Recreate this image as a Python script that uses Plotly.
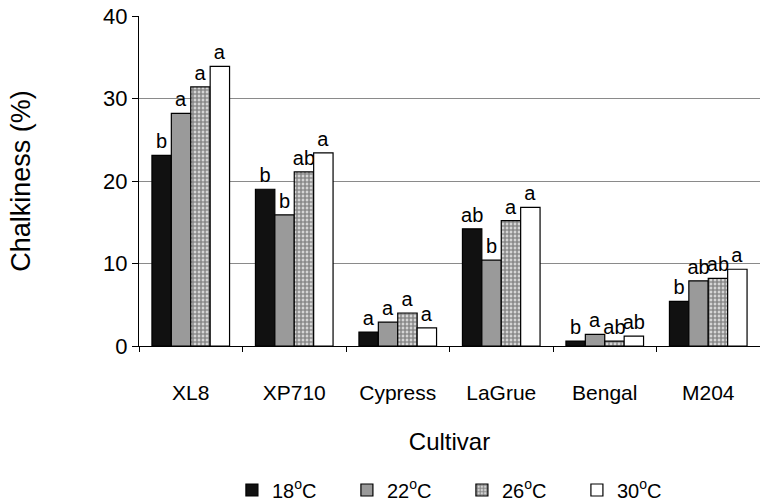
import plotly.graph_objects as go

cultivars = ["XL8", "XP710", "Cypress", "LaGrue", "Bengal", "M204"]
series_names = ["18<sup>o</sup>C", "22<sup>o</sup>C", "26<sup>o</sup>C", "30<sup>o</sup>C"]
v18 = [23.1, 19.0, 1.7, 14.2, 0.6, 5.4]
v22 = [28.2, 15.9, 2.9, 10.4, 1.4, 7.9]
v26 = [31.4, 21.1, 4.0, 15.2, 0.6, 8.2]
v30 = [33.9, 23.4, 2.2, 16.8, 1.2, 9.3]
l18 = ["b", "b", "a", "ab", "b", "b"]
l22 = ["a", "b", "a", "b", "a", "ab"]
l26 = ["a", "ab", "a", "a", "ab", "ab"]
l30 = ["a", "a", "a", "a", "ab", "a"]

FONT = "Liberation Sans, Arial, sans-serif"
styles = [
    dict(color="#111111"),
    dict(color="#9a9a9a"),
    dict(color="white", pattern=dict(shape=".", fgcolor="#222222", bgcolor="#f4f4f4", size=4, solidity=0.75)),
    dict(color="white"),
]

fig = go.Figure()
for name, vals, labs, st in zip(series_names, [v18, v22, v26, v30], [l18, l22, l26, l30], styles):
    fig.add_trace(go.Bar(
        x=cultivars, y=vals, name=name, text=labs, textposition="outside",
        constraintext="none", cliponaxis=False,
        textfont=dict(size=20, color="black", family=FONT),
        marker=dict(line=dict(color="black", width=1.2), **st),
    ))

fig.update_layout(
    width=760, height=501,
    margin=dict(l=139, r=0, t=16, b=155),
    paper_bgcolor="white", plot_bgcolor="white",
    barmode="group", bargap=0.25, bargroupgap=0,
    font=dict(family=FONT, color="black"),
    showlegend=True,
    legend=dict(orientation="h", x=0.52, xanchor="center", yref="container", y=0.022,
                yanchor="middle", font=dict(size=20), entrywidth=70, traceorder="normal"),
    xaxis=dict(range=[-0.5, 5.5], showline=True, linecolor="black", linewidth=1,
               ticks="outside", tickson="boundaries", ticklen=5, tickcolor="black",
               tickfont=dict(size=21), ticklabelstandoff=28, automargin=False,
               title=dict(text="Cultivar", font=dict(size=24), standoff=29)),
    yaxis=dict(range=[0, 40], tickvals=[0, 10, 20, 30, 40], showline=True, linecolor="black",
               linewidth=1, ticks="outside", ticklen=6, tickcolor="black",
               tickfont=dict(size=22), showgrid=True, gridcolor="#8a8a8a", gridwidth=1,
               zeroline=False, automargin=False,
               title=dict(text="Chalkiness (%)", font=dict(size=27), standoff=64)),
)
fig.write_html("out.html", config={"displayModeBar": False},
               post_script="document.body.style.margin='0';")
